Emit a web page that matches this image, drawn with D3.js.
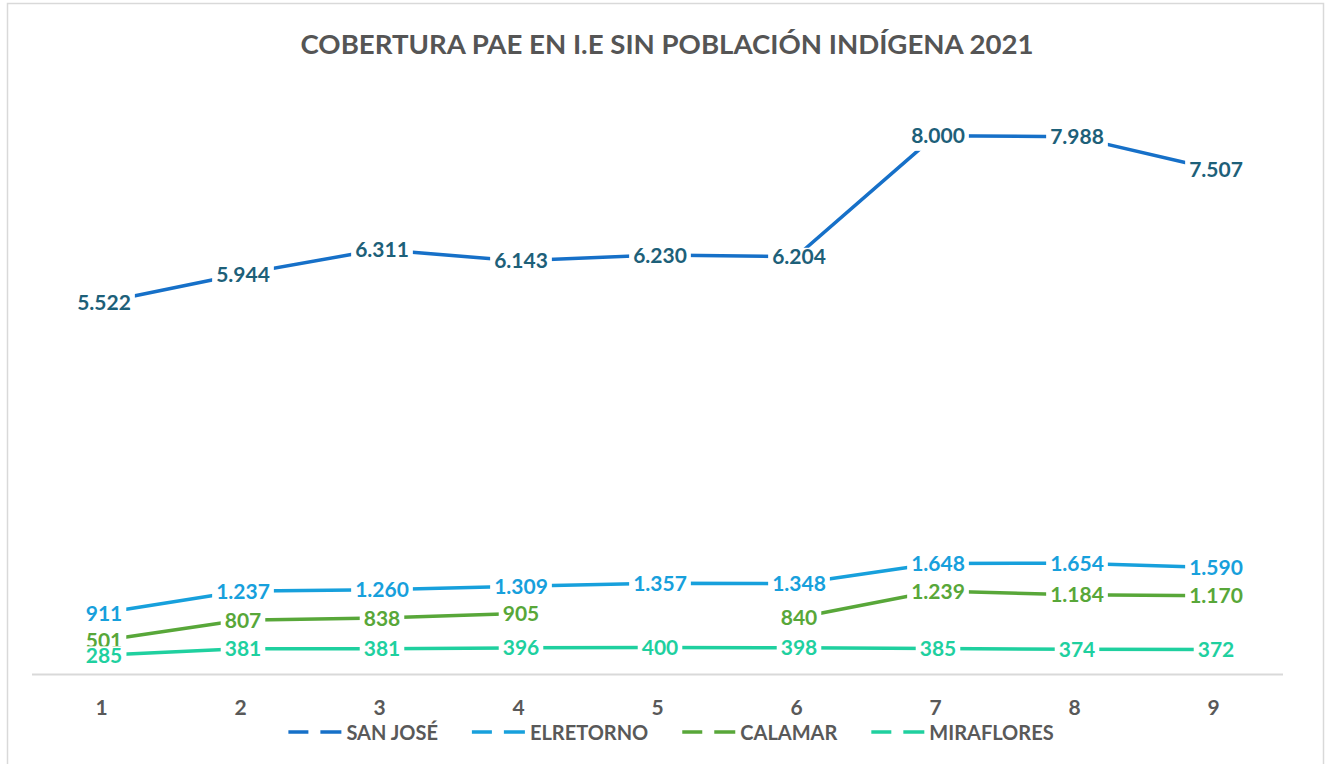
<!DOCTYPE html>
<html>
<head>
<meta charset="utf-8">
<script src="https://cdn.jsdelivr.net/npm/d3@7"></script>
<style>
  html, body { margin: 0; padding: 0; background: #fff; }
  svg { display: block; }
</style>
</head>
<body>
<svg id="chart" width="1325" height="764"></svg>
<script>
// ---- Data ----
const title = "COBERTURA PAE EN I.E SIN POBLACIÓN INDÍGENA 2021";
const categories = ["1", "2", "3", "4", "5", "6", "7", "8", "9"];
const seriesNames = ["SAN JOSÉ", "ELRETORNO", "CALAMAR", "MIRAFLORES"];
const sanJose    = [5522, 5944, 6311, 6143, 6230, 6204, 8000, 7988, 7507];
const elRetorno  = [911, 1237, 1260, 1309, 1357, 1348, 1648, 1654, 1590];
const calamar    = [501, 807, 838, 905, null, 840, 1239, 1184, 1170];
const miraflores = [285, 381, 381, 396, 400, 398, 385, 374, 372];

// ---- Styles ----
const lineColors  = ["#1670C8", "#17A0DC", "#58A739", "#1FD09F"];
const labelColors = ["#1D6079", "#17A0DC", "#58A739", "#1FD09F"];
const seriesValues = [sanJose, elRetorno, calamar, miraflores];
const series = seriesNames.map((name, i) => ({
  name, values: seriesValues[i], line: lineColors[i], label: labelColors[i]
}));

const FONT = "Lato, 'Open Sans', sans-serif";
const svg = d3.select("#chart");

// frame
svg.append("rect")
  .attr("x", 7.5).attr("y", 3.5)
  .attr("width", 1316).attr("height", 800)
  .attr("fill", "#fff")
  .attr("stroke", "#d9d9d9").attr("stroke-width", 1.5);

// scales
const x = d3.scalePoint().domain(categories).range([101, 1213]);
const y = d3.scaleLinear().domain([0, 9000]).range([674.5, 68.5]);

const loc = d3.formatLocale({ decimal: ",", thousands: ".", grouping: [3], currency: ["$", ""] });
const fmt = loc.format(",d");

// title
svg.append("text")
  .attr("x", 667).attr("y", 54)
  .attr("text-anchor", "middle")
  .attr("font-family", FONT).attr("font-weight", 700)
  .attr("font-size", 26).attr("fill", "#555555")
  .attr("textLength", 733).attr("lengthAdjust", "spacingAndGlyphs")
  .text(title);

// x axis
const xAxis = d3.axisBottom(x).tickSize(0).tickPadding(0);
const axisG = svg.append("g").attr("transform", `translate(0,${y(0)})`).call(xAxis);
axisG.select(".domain").remove();
axisG.append("line")
  .attr("x1", 32).attr("x2", 1283).attr("y1", 0).attr("y2", 0)
  .attr("stroke", "#d9d9d9").attr("stroke-width", 2);
axisG.selectAll(".tick text")
  .attr("y", 40.5)
  .attr("dy", null)
  .attr("font-family", FONT).attr("font-weight", 700)
  .attr("font-size", 21).attr("fill", "#595959");

// lines
const line = d3.line()
  .defined(d => d.v != null)
  .x(d => x(d.c))
  .y(d => y(d.v));

const linesG = svg.append("g");
series.forEach(s => {
  const pts = categories.map((c, i) => ({ c, v: s.values[i] }));
  linesG.append("path")
    .datum(pts)
    .attr("d", line)
    .attr("fill", "none")
    .attr("stroke", s.line)
    .attr("stroke-width", 3.5)
    .attr("stroke-linejoin", "round");
});

// data labels with white background
const labelsG = svg.append("g");
series.forEach(s => {
  categories.forEach((c, i) => {
    const v = s.values[i];
    if (v == null) return;
    const cx = x(c) + 3, cy = y(v);
    const g = labelsG.append("g");
    const rect = g.append("rect").attr("fill", "#fff");
    const t = g.append("text")
      .attr("x", cx).attr("y", cy + 7.5)
      .attr("text-anchor", "middle")
      .attr("font-family", FONT).attr("font-weight", 700)
      .attr("font-size", 21).attr("fill", s.label)
      .text(fmt(v));
    const w = t.node().getComputedTextLength();
    rect.attr("x", cx - w / 2 - 4).attr("y", cy - 9)
      .attr("width", w + 8).attr("height", 24);
  });
});

// legend
const legendG = svg.append("g").attr("transform", "translate(0,732)");
let cursor = 0;
const items = [];
series.forEach(s => {
  const g = legendG.append("g");
  g.append("line")
    .attr("x1", 0).attr("x2", 53).attr("y1", 0).attr("y2", 0)
    .attr("stroke", s.line).attr("stroke-width", 3.5)
    .attr("stroke-dasharray", "20,12,22");
  const t = g.append("text")
    .attr("x", 58).attr("y", 7.5)
    .attr("font-family", FONT).attr("font-weight", 700)
    .attr("font-size", 20).attr("fill", "#595959")
    .text(s.name);
  const w = t.node().getComputedTextLength();
  items.push({ g, w });
});
let total = 0;
items.forEach((it, i) => { total += 58 + it.w + (i < items.length - 1 ? 34 : 0); });
cursor = 671 - total / 2;
items.forEach(it => {
  it.g.attr("transform", `translate(${cursor},0)`);
  cursor += 58 + it.w + 34;
});
</script>
</body>
</html>
